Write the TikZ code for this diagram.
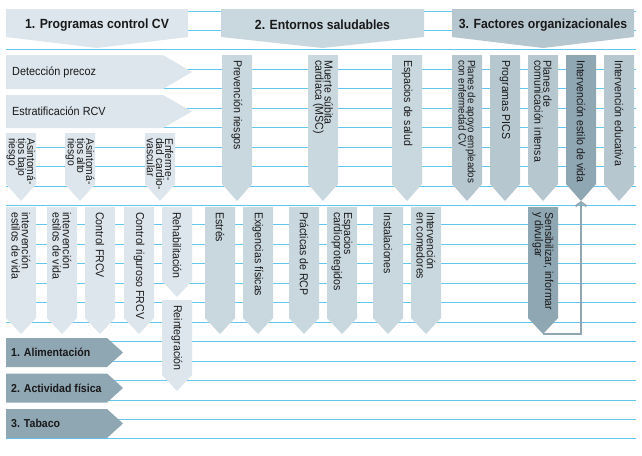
\documentclass[tikz,border=0pt]{standalone}
\usepackage{fontspec}
\setmainfont{Liberation Sans}[FakeStretch=0.92]
\usepackage{tikz}
\usetikzlibrary{arrows.meta}

\definecolor{paleblue}{HTML}{DDE6EC}
\definecolor{midblue}{HTML}{C9D7DF}
\definecolor{greyblue}{HTML}{B7C7D0}
\definecolor{darkblue}{HTML}{8FA6B3}
\definecolor{gridblue}{HTML}{62C6EE}
\newcommand{\tightlines}{\lineskiplimit=-20pt\relax}

\begin{document}
\begin{tikzpicture}[x=1pt,y=-1pt,
	vlabel/.style={rotate=-90,anchor=west,align=left,inner sep=0pt,text=black!90,font=\fontsize{11.5}{10.2}\selectfont\tightlines},
	hlabel/.style={anchor=west,inner sep=0pt,text=black!90,font=\fontsize{11.8}{14}\selectfont},
	head/.style={inner sep=0pt,text=black!90,font=\fontsize{13.3}{15}\selectfont\bfseries},
	link/.style={draw=darkblue,line width=2pt,-{Straight Barb[length=4pt,width=11pt]}}]
					\useasboundingbox (0,0) rectangle (642,455);
					% Define the grid
					\foreach \k in {0,...,22} \draw[gridblue,line width=1pt] (6,11+19.45*\k) -- (636,11+19.45*\k);
					% Create headers
					\foreach \xa/\xb/\c/\nm/\txt in {6/188/paleblue/programas/{1. Programas control CV},
						221/424/midblue/entornos/{2. Entornos saludables},
						452/634/greyblue/factores/{3. Factores organizacionales}}{
						\fill[\c] (\xa,9) -- (\xb,9) -- (\xb,37) -- ({(\xa+\xb)/2},48) -- (\xa,37) -- cycle;
						\node[head] (\nm) at ({(\xa+\xb)/2},25) {\txt};}
					% Create rows
					\foreach \ya/\yb/\nm/\txt in {55/89/precoz/{Detección precoz},95/128/estratificacion/{Estratificación RCV}}{
						\fill[paleblue] (6,\ya) -- (163,\ya) -- (192,{(\ya+\yb)/2}) -- (163,\yb) -- (6,\yb) -- cycle;
						\node[hlabel] (\nm) at (12,{(\ya+\yb)/2}) {\txt};}
					% Create first level columns
					\foreach \xa/\ya/\c/\fs/\nm/\txt in {6/133/paleblue/11.2/bajo/{Asintomá-\\tios bajo\\riesgo},
						65/133/paleblue/11.2/alto/{Asintomá-\\tios alto\\riesgo},
						145/133/paleblue/11.2/enfermedad/{Enferme-\\dad cardio-\\vascular},
						222/55/midblue/11.5/prevencion/{Prevención riesgos},
						308/55/midblue/11.5/muerte/{Muerte súbita\\cardiaca (MSC)},
						392/55/midblue/11.5/espacios/{Espacios de salud},
						452/55/greyblue/10.6/apoyo/{Planes de apoyo empleados\\con enfermedad CV},
						490/55/greyblue/11.5/pics/{Programas PICS},
						528/55/greyblue/11.5/comunicacion/{Planes de\\comunicación intensa},
						566/55/darkblue/11.5/estilo/{Intervención estilo de vida},
						604/55/greyblue/11.5/educativa/{Intervención educativa}}{
						\fill[\c] (\xa,\ya) -- (\xa+30,\ya) -- (\xa+30,184) -- (\xa+15,201) coordinate (\nm-tip) -- (\xa,184) -- cycle;
						\node[vlabel,font=\fontsize{\fs}{9.2}\selectfont\tightlines] (\nm) at (\xa+15,\ya+5) {\txt};}
					% Create second level columns
					\foreach \xa/\ya/\yb/\c/\nm/\txt in {6/207/334/paleblue/vidaA/{intervención\\estilos de vida},
						47/207/334/paleblue/vidaB/{intervención\\estilos de vida},
						85/207/334/paleblue/frcv/{Control FRCV},
						124/207/334/paleblue/riguroso/{Control riguroso FRCV},
						162/207/297/paleblue/rehab/{Rehabilitación},
						162/300/391/paleblue/reint/{Reintegración},
						205/207/334/midblue/estres/{Estrés},
						243/207/334/midblue/exigencias/{Exigencias físicas},
						289/207/334/midblue/rcp/{Prácticas de RCP},
						327/207/334/midblue/cardio/{Espacios\\cardioprotegidos},
						373/207/334/midblue/instal/{Instalaciones},
						411/207/334/midblue/comedores/{Intervención\\en comedores},
						528/207/334/darkblue/sensib/{Sensibilizar, informar\\y divulgar}}{
						\fill[\c] (\xa,\ya) -- (\xa+30,\ya) -- (\xa+30,\yb-16) -- (\xa+15,\yb) coordinate (\nm-tip) -- (\xa,\yb-16) -- cycle;
						\node[vlabel] (\nm) at (\xa+15,\ya+5) {\txt};}
					% Create habits
					\foreach \ya/\nm/\txt in {338/alimentacion/{1. Alimentación},373.5/actividad/{2. Actividad física},409/tabaco/{3. Tabaco}}{
						\fill[darkblue] (6,\ya) -- (107,\ya) -- (123,\ya+14.5) -- (107,\ya+29) -- (6,\ya+29) -- cycle;
						\node[hlabel,font=\fontsize{11.5}{13}\selectfont\bfseries] (\nm) at (11,\ya+14.5) {\txt};}
					% Link back
					\draw[link] (sensib-tip) -| (estilo-tip);
				\end{tikzpicture}
\end{document}
